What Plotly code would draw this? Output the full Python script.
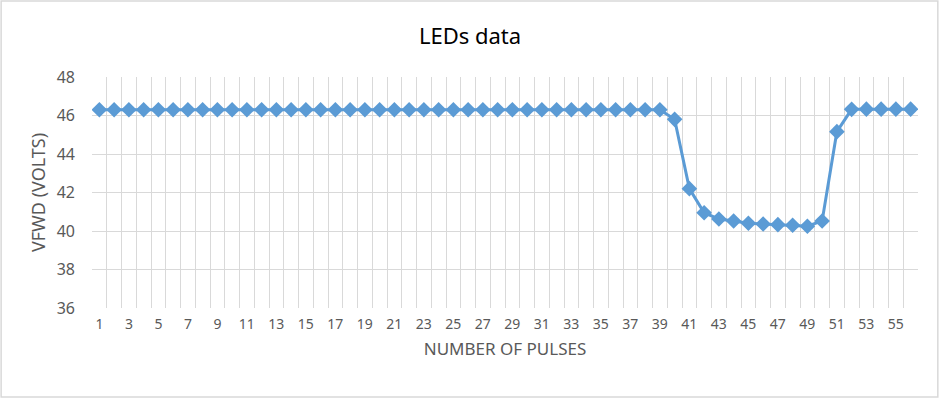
import plotly.graph_objects as go

pulses = list(range(1, 57))
vfwd = [46.3] * 38 + [46.3, 45.8, 42.2, 40.95, 40.62, 40.52, 40.4, 40.36, 40.33, 40.3, 40.25, 40.52,
                      45.16, 46.32, 46.33, 46.33, 46.33, 46.33]
x_tick_labels = [str(i) for i in range(1, 57, 2)]

fig = go.Figure()
fig.add_trace(go.Scatter(
    x=pulses, y=vfwd, mode="lines+markers",
    line=dict(color="#5B9BD5", width=3),
    marker=dict(symbol="diamond", size=12, color="#5B9BD5"),
    showlegend=False,
))

font_fam = "Noto Sans, Open Sans, sans-serif"
fig.update_layout(
    width=940, height=400,
    margin=dict(l=92, r=22, t=77, b=92),
    paper_bgcolor="white", plot_bgcolor="white",
    title=dict(text="LEDs data", x=0.5, xanchor="center", y=0.91, yanchor="middle",
               font=dict(family=font_fam, size=22, color="#000000")),
    font=dict(family=font_fam, color="#595959"),
    xaxis=dict(
        range=[0.5, 56.5],
        tickmode="array",
        tickvals=list(range(1, 57, 2)),
        ticktext=x_tick_labels,
        showgrid=False,
        zeroline=False,
        showline=False,
        ticks="",
        tickfont=dict(size=14, color="#595959"),
        ticklabelstandoff=6,
        title=dict(text="NUMBER OF PULSES", font=dict(size=17, color="#595959"), standoff=11),
        minor=dict(tickmode="linear", tick0=0.5, dtick=1, showgrid=True,
                   gridcolor="#D9D9D9", gridwidth=1, ticks=""),
    ),
    yaxis=dict(
        range=[36, 48],
        dtick=2,
        showgrid=True,
        gridcolor="#D9D9D9",
        zeroline=False,
        showline=False,
        ticks="",
        tickfont=dict(size=16, color="#595959"),
        ticklabelstandoff=16,
        title=dict(text="VFWD (VOLTS)", font=dict(size=18, color="#595959"), standoff=6),
    ),
    shapes=[dict(type="rect", xref="paper", yref="paper",
                 x0=-0.110, x1=1.024, y0=-0.385, y1=1.329,
                 line=dict(color="#D9D9D9", width=1.5), layer="below")],
)

fig.write_html("out.html", config={"displayModeBar": False},
               post_script="document.body.style.margin='0';")
